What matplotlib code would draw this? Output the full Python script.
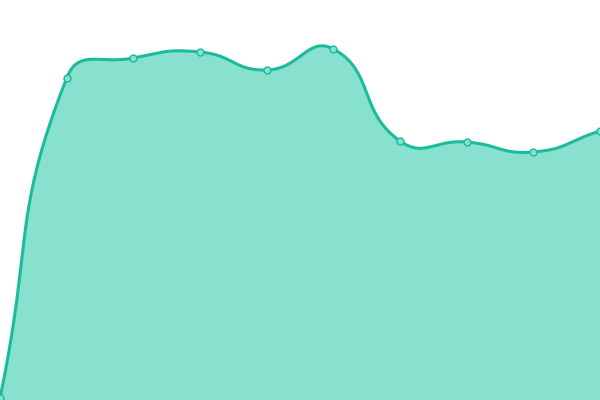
import numpy as np
import matplotlib.pyplot as plt

x_idx = np.arange(10)
values = [2, 322, 342, 348, 330, 351, 259, 258, 248, 269]

line_color = '#1abc9c'
fill_color = '#88e0cf'


def smooth_path(xs, ys, k=0.5, n=40):
    # bezier smoothing, control points scaled by segment lengths
    xs = np.asarray(xs, float)
    ys = np.asarray(ys, float)
    m = len(xs)
    cp_in = np.zeros((m, 2))
    cp_out = np.zeros((m, 2))
    for i in range(m):
        p = np.array([xs[i], ys[i]])
        prev = np.array([xs[i - 1], ys[i - 1]]) if i > 0 else p
        nxt = np.array([xs[i + 1], ys[i + 1]]) if i < m - 1 else p
        v = nxt - prev
        d0 = np.hypot(*(p - prev))
        d1 = np.hypot(*(nxt - p))
        r = d1 / (d0 + d1)
        cp_in[i] = p - v * k * (1 - r)
        cp_out[i] = p + v * k * r
    t = np.linspace(0, 1, n)[:, None]
    pts = []
    for i in range(m - 1):
        p0 = np.array([xs[i], ys[i]])
        p3 = np.array([xs[i + 1], ys[i + 1]])
        c1, c2 = cp_out[i], cp_in[i + 1]
        seg = ((1 - t)**3 * p0 + 3 * (1 - t)**2 * t * c1
               + 3 * (1 - t) * t**2 * c2 + t**3 * p3)
        pts.append(seg)
    pts = np.vstack(pts)
    return pts[:, 0], pts[:, 1]


# work in pixel-like units so the smoothing matches the screen
step = 600 / 9
sx, sy = smooth_path(x_idx * step, values)

fig = plt.figure(figsize=(6, 4), dpi=100)
ax = fig.add_axes([0, 0, 1, 1])
ax.fill_between(sx / step, sy, 0, color=fill_color, linewidth=0)
ax.plot(sx / step, sy, color=line_color, linewidth=2.2)
ax.plot(x_idx, values, 'o', markersize=5, markerfacecolor=fill_color,
        markeredgecolor=line_color, markeredgewidth=1)
ax.set_xlim(0, 9)
ax.set_ylim(0, 400)
ax.axis('off')
fig.savefig('out.png', dpi=100)
